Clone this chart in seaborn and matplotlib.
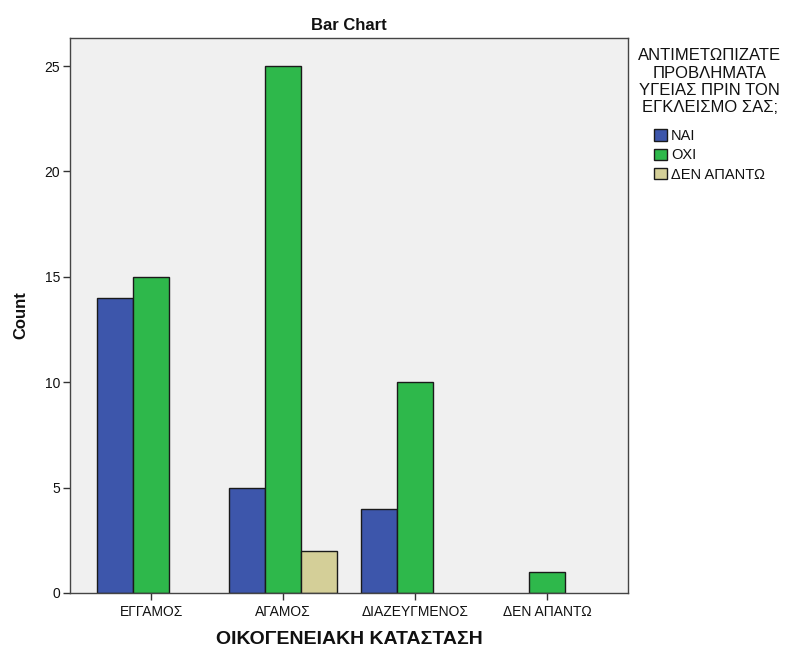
import numpy as np
import pandas as pd
import matplotlib
matplotlib.use("Agg")
import matplotlib.pyplot as plt
import seaborn as sns

# data
categories = ["ΕΓΓΑΜΟΣ", "ΑΓΑΜΟΣ", "ΔΙΑΖΕΥΓΜΕΝΟΣ", "ΔΕΝ ΑΠΑΝΤΩ"]
answers = ["ΝΑΙ", "ΟΧΙ", "ΔΕΝ ΑΠΑΝΤΩ"]
counts_nai = [14, 5, 4, None]
counts_oxi = [15, 25, 10, 1]
counts_den = [None, 2, None, None]
colors = ["#3D56AB", "#2EB84B", "#D4CF98"]

rows = []
for ans, vals in zip(answers, [counts_nai, counts_oxi, counts_den]):
    for cat, v in zip(categories, vals):
        if v is not None:
            rows.append({"status": cat, "answer": ans, "count": v})
df = pd.DataFrame(rows)

sns.set_style("white")
plt.rcParams["font.family"] = ["Liberation Sans", "DejaVu Sans"]
plt.rcParams["text.color"] = "#111111"
plt.rcParams["axes.labelcolor"] = "#111111"

fig = plt.figure(figsize=(7.87, 6.52), dpi=100)
ax = fig.add_axes([70 / 787, 59 / 652, 558 / 787, 555 / 652])
ax.set_facecolor("#F0F0F0")

sns.barplot(data=df, x="status", y="count", hue="answer",
            order=categories, hue_order=answers, palette=colors,
            width=0.82, edgecolor="#1a1a1a", linewidth=1.0,
            saturation=1, errorbar=None, ax=ax)

ax.set_xlim(-0.614, 3.614)
ax.set_ylim(0, 26.33)
ax.set_yticks([0, 5, 10, 15, 20, 25])
ax.tick_params(axis="both", direction="out", length=5, width=1,
               bottom=True, left=True,
               colors="#333333", labelsize=10, labelcolor="#111111")
ax.tick_params(axis="x", pad=4)
ax.tick_params(axis="y", pad=2)
for s in ax.spines.values():
    s.set_color("#444444")
    s.set_linewidth(1)

ax.set_title("Bar Chart", fontsize=12, fontweight="bold", pad=6)
ax.set_ylabel("Count", fontsize=12, fontweight="bold", labelpad=12)
ax.set_xlabel("ΟΙΚΟΓΕΝΕΙΑΚΗ ΚΑΤΑΣΤΑΣΗ", fontsize=14, fontweight="bold", labelpad=8)

leg = ax.legend(title="ΑΝΤΙΜΕΤΩΠΙΖΑΤΕ\nΠΡΟΒΛΗΜΑΤΑ\nΥΓΕΙΑΣ ΠΡΙΝ ΤΟΝ\nΕΓΚΛΕΙΣΜΟ ΣΑΣ;",
                loc="upper left", bbox_to_anchor=(1.0, 1.0), frameon=False,
                fontsize=10.5, title_fontsize=12, handlelength=0.85, handleheight=0.85,
                handletextpad=0.3, labelspacing=0.35, borderaxespad=0.3)
leg.get_title().set_multialignment("center")
leg._legend_box.sep = 10

fig.savefig("out.png", dpi=100)
